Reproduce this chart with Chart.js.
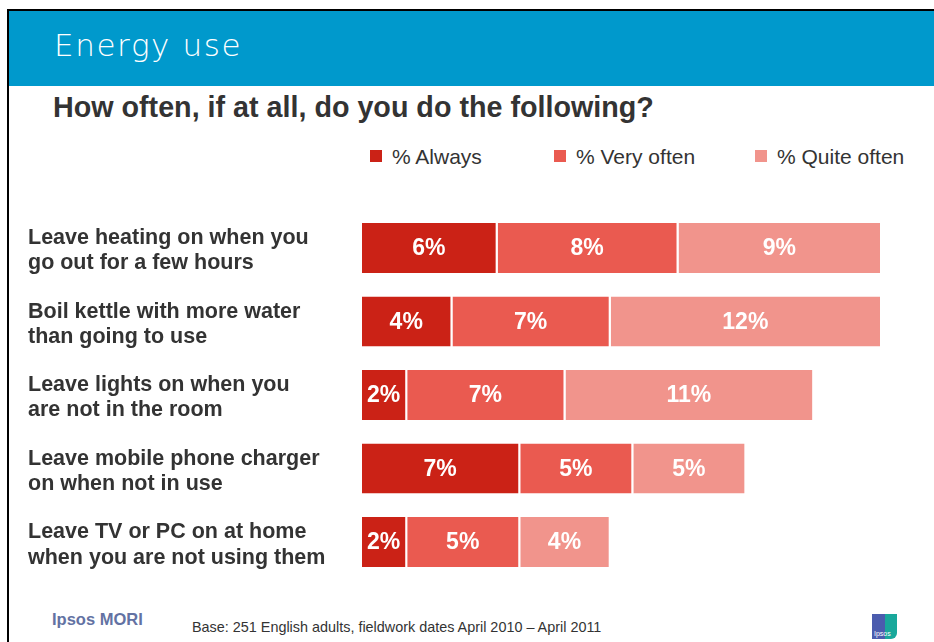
<!DOCTYPE html>
<html>
<head>
  <meta charset="utf-8">
  <title>Energy use</title>
  <script src="https://cdn.jsdelivr.net/npm/chart.js"></script>
  <style>
    body {
      margin: 0;
      width: 934px;
      height: 642px;
      overflow: hidden;
      background: #fff;
      position: relative;
      font-family: "Liberation Sans", Arial, sans-serif;
      color: #333;
    }
    .frame-top { position: absolute; left: 7px; top: 9px; width: 927px; height: 2px; background: #000; }
    .frame-left { position: absolute; left: 7px; top: 9px; width: 2px; height: 633px; background: #000; }
    .header { position: absolute; left: 9px; top: 11px; width: 925px; height: 75px; background: #0099cc; }
    .header h1 {
      position: absolute; left: 45px; top: 19px; margin: 0;
      font-family: "DejaVu Sans", sans-serif; font-weight: 200;
      font-size: 31px; line-height: 31px; letter-spacing: 1.6px; color: #fff;
    }
    .question {
      position: absolute; left: 53px; top: 93px;
      font-size: 28.7px; line-height: 29px; font-weight: bold; color: #333;
    }
    .legend-item {
      position: absolute; top: 146px; font-size: 21px; line-height: 21px; color: #333;
      padding-left: 22px; white-space: nowrap;
    }
    .legend-item span {
      position: absolute; left: 0; top: 4px; width: 12px; height: 12px;
    }
    #wrap { position: absolute; left: 28px; top: 183px; width: 854px; height: 424px; }
    .brand {
      position: absolute; left: 52px; top: 611px; font-size: 16.5px; line-height: 17px;
      font-weight: bold; color: #6372a3;
    }
    .base { position: absolute; left: 192px; top: 620px; font-size: 14.4px; line-height: 15px; color: #333; }
    .logo {
      position: absolute; left: 872px; top: 614px; width: 25px; height: 25px;
      background: linear-gradient(to right, #4b5cae 0 50%, #19a89b 50% 100%);
      border-radius: 0 0 6px 0;
    }
    .logo b {
      position: absolute; left: 2px; bottom: 2px; font-size: 7px; line-height: 7px;
      color: #fff; font-weight: normal;
    }
  </style>
</head>
<body>
  <div class="frame-top"></div>
  <div class="frame-left"></div>
  <div class="header"><h1>Energy use</h1></div>
  <div class="question">How often, if at all, do you do the following?</div>
  <div id="legend"></div>
  <div id="wrap"><canvas id="chart"></canvas></div>
  <div class="brand">Ipsos MORI</div>
  <div class="base">Base: 251 English adults, fieldwork dates April 2010 – April 2011</div>
  <div class="logo"><b>Ipsos</b></div>
  <script>
    // data
    const categories = [
      ['Leave heating on when you', 'go out for a few hours'],
      ['Boil kettle with more water', 'than going to use'],
      ['Leave lights on when you', 'are not in the room'],
      ['Leave mobile phone charger', 'on when not in use'],
      ['Leave TV or PC on at home', 'when you are not using them']
    ];
    const always = [6, 4, 2, 7, 2];
    const veryOften = [8, 7, 7, 5, 5];
    const quiteOften = [9, 12, 11, 5, 4];
    const seriesNames = ['% Always', '% Very often', '% Quite often'];
    const seriesColors = ['#cb2216', '#ea5a50', '#f1948c'];
    const legendLeft = [370, 554, 755];

    // html legend
    const legendEl = document.getElementById('legend');
    seriesNames.forEach((name, i) => {
      const item = document.createElement('div');
      item.className = 'legend-item';
      item.style.left = legendLeft[i] + 'px';
      item.innerHTML = '<span style="background:' + seriesColors[i] + '"></span>' + name;
      legendEl.appendChild(item);
    });

    const barLabels = {
      id: 'barLabels',
      afterDatasetsDraw(chart) {
        const ctx = chart.ctx;
        ctx.save();
        ctx.font = 'bold 23px "Liberation Sans", Arial, sans-serif';
        ctx.fillStyle = '#fff';
        ctx.textAlign = 'center';
        ctx.textBaseline = 'middle';
        chart.data.datasets.forEach((ds, i) => {
          chart.getDatasetMeta(i).data.forEach((bar, j) => {
            const p = bar.getProps(['x', 'base', 'y'], true);
            ctx.fillText(ds.data[j] + '%', (p.x + p.base) / 2 - 1, p.y + 1);
          });
        });
        ctx.restore();
      }
    };

    const series = [always, veryOften, quiteOften];
    const ctx = document.getElementById('chart').getContext('2d');
    new Chart(ctx, {
      type: 'bar',
      data: {
        labels: categories,
        datasets: series.map((values, i) => ({
          label: seriesNames[i],
          data: values,
          backgroundColor: seriesColors[i],
          borderColor: '#fff',
          borderWidth: { top: 0, right: 2, bottom: 0, left: 0 },
          borderSkipped: false,
          categoryPercentage: 1,
          barPercentage: 0.68
        }))
      },
      options: {
        indexAxis: 'y',
        responsive: true,
        maintainAspectRatio: false,
        animation: false,
        layout: { padding: 0 },
        plugins: {
          legend: { display: false },
          tooltip: { enabled: false }
        },
        scales: {
          x: {
            stacked: true,
            display: false,
            min: 0,
            max: 23
          },
          y: {
            stacked: true,
            grid: { display: false },
            border: { display: false },
            afterFit(scale) { scale.width = 334; },
            ticks: {
              crossAlign: 'far',
              labelOffset: 3,
              color: '#333',
              font: { family: '"Liberation Sans", Arial, sans-serif', size: 21.5, weight: 'bold', lineHeight: 1.17 }
            }
          }
        }
      },
      plugins: [barLabels]
    });
  </script>
</body>
</html>
